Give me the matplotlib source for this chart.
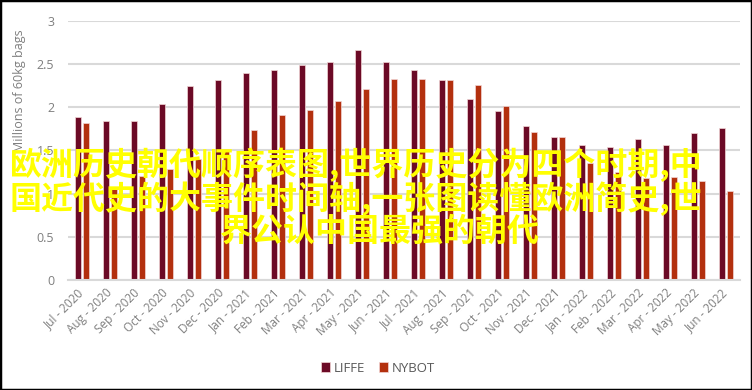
import numpy as np
import matplotlib
matplotlib.use('Agg')
import matplotlib.pyplot as plt
from matplotlib.patches import Rectangle

# months on the x axis
months = ['Jul - 2020', 'Aug - 2020', 'Sep - 2020', 'Oct - 2020', 'Nov - 2020', 'Dec - 2020',
          'Jan - 2021', 'Feb - 2021', 'Mar - 2021', 'Apr - 2021', 'May - 2021', 'Jun - 2021',
          'Jul - 2021', 'Aug - 2021', 'Sep - 2021', 'Oct - 2021', 'Nov - 2021', 'Dec - 2021',
          'Jan - 2022', 'Feb - 2022', 'Mar - 2022', 'Apr - 2022', 'May - 2022', 'Jun - 2022']
# millions of 60kg bags
liffe = [1.89, 1.84, 1.84, 2.04, 2.24, 2.31, 2.39, 2.43, 2.49, 2.52, 2.66, 2.52,
         2.43, 2.31, 2.09, 1.96, 1.78, 1.66, 1.56, 1.54, 1.63, 1.56, 1.70, 1.76]
nybot = [1.82, 1.05, 1.20, 1.29, 1.40, 1.52, 1.74, 1.91, 1.97, 2.07, 2.21, 2.32,
         2.32, 2.31, 2.26, 2.01, 1.71, 1.66, 1.35, 1.25, 1.18, 1.19, 1.15, 1.03]
yticks = [0, 0.5, 1, 1.5, 2, 2.5, 3]
ytick_labels = ['0', '0.5', '1', '1.5', '2', '2.5', '3']
overlay = ['欧洲历史朝代顺序表图,世界历史分为四个时期,中',
           '国近代史的大事件时间轴,一张图读懂欧洲简史,世',
           '界公认中国最强的朝代']

W, H = 752, 390
fig = plt.figure(figsize=(W / 100, H / 100), dpi=100)
fig.patch.set_facecolor('white')

ax = fig.add_axes([68 / W, 1 - 280 / H, 672 / W, (280 - 20.7) / H])
x = np.arange(len(months))
bw = 0.22
ax.bar(x - 0.145, liffe, bw, color='#6c0a26', edgecolor='#f2d6d6', linewidth=0.5, label='LIFFE')
ax.bar(x + 0.145, nybot, bw, color='#b3300e', edgecolor='#f2d6d6', linewidth=0.5, label='NYBOT')

ax.set_xlim(-0.5, len(months) - 0.5)
ax.set_ylim(0, 3)
ax.set_yticks(yticks)
ax.set_yticklabels(ytick_labels)
ax.set_xticks(x)
ax.set_xticklabels(months, rotation=45, ha='right', va='center', rotation_mode='anchor')
ax.tick_params(axis='y', length=0, pad=10, labelsize=9, labelcolor='#7f7f7f')
ax.tick_params(axis='x', length=0, pad=8, labelsize=8.5, labelcolor='#7f7f7f')
for lab in ax.get_xticklabels() + ax.get_yticklabels():
    lab.set_family('Open Sans')
ax.grid(axis='y', color='#d9d9d9', linewidth=1.5)
ax.set_axisbelow(True)
for s in ['top', 'right', 'left']:
    ax.spines[s].set_visible(False)
ax.spines['bottom'].set_color('#d9d9d9')
ax.spines['bottom'].set_linewidth(1.5)

fig.text(20 / W, 1 - 91 / H, 'Millions of 60kg bags', rotation=90, ha='center', va='center',
         fontsize=9, color='#7f7f7f', family='Open Sans')

leg = fig.legend(loc='center', bbox_to_anchor=(378 / W, 1 - 368 / H), ncol=2, frameon=False,
                 handlelength=0.7, handleheight=0.7, handletextpad=0.3, columnspacing=1.0,
                 prop={'family': 'Open Sans', 'size': 9.5})
for t in leg.get_texts():
    t.set_color('#595959')

# yellow overlay text
fam = ['Noto Sans CJK SC', 'DejaVu Sans']
kw = dict(ha='left', va='center', fontsize=23, color='#ffff00', family=fam, weight='bold')
fig.text(10 / W, 1 - 165 / H, overlay[0], **kw)
fig.text(10 / W, 1 - 198.5 / H, overlay[1], **kw)
fig.text(220 / W, 1 - 231.5 / H, overlay[2], **kw)

# black frame round the picture
fig.patches.append(Rectangle((0, 0), 1, 1, transform=fig.transFigure, fill=False,
                             edgecolor='black', linewidth=2.5, zorder=10))

fig.savefig('out.png', dpi=100)
